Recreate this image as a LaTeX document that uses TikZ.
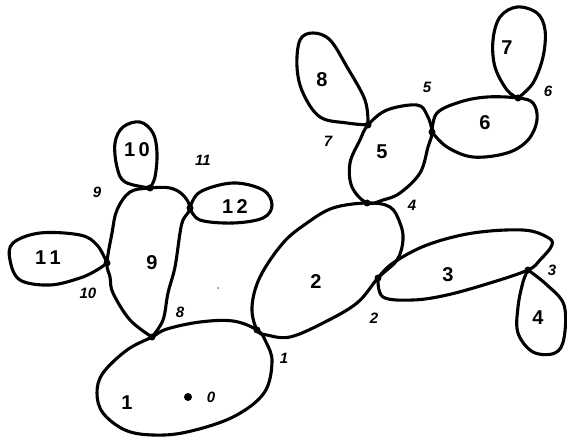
\documentclass[tikz,border=0pt]{standalone}
\usepackage{fontspec}
\setmainfont{Liberation Sans}
\begin{document}
\begin{tikzpicture}[x=1pt,y=-1pt,
  blob/.style={draw=black,line width=3.1pt,line join=round,line cap=round},
  dotj/.style={circle,fill=black,inner sep=0pt,minimum size=7pt},
  lab/.style={font=\fontsize{20}{20}\selectfont\bfseries,inner sep=0pt},
  ilab/.style={font=\fontsize{15}{15}\selectfont\bfseries\itshape,inner sep=0pt}]
\useasboundingbox (0,0) rectangle (567,438);
% junctions
\coordinate (j8) at (152,337);
\coordinate (j1) at (257,330);
\coordinate (j10) at (107,263);
\coordinate (j9) at (150,188);
\coordinate (j11) at (190,208);
\coordinate (j4) at (367,203);
\coordinate (j2) at (378,278);
\coordinate (j3) at (528,270);
\coordinate (j7) at (368,125);
\coordinate (j5) at (432,132);
\coordinate (j6) at (518,98);
% blob 1
\draw[blob] plot[smooth cycle,tension=0.6] coordinates {(j8) (167,329) (200,322) (233,321) (j1) (266,342) (272,362) (264,393) (233,417) (187,432) (153,435) (125,430) (103,413) (97,393) (103,373) (127,350)};
% blob 9
\draw[blob] plot[smooth,tension=0.6] coordinates {(j8) (130,320) (113,293) (110,277) (j10) (112,233) (117,210) (130,192) (j9) (170,188) (183,195) (j11) (183,220) (180,233) (175,267) (168,293) (163,320) (j8)};
% blob 10
\draw[blob] plot[smooth,tension=0.6] coordinates {(j9) (125,182) (117,167) (115,143) (123,127) (140,122) (153,133) (157,153) (155,177) (j9)};
% blob 11
\draw[blob] plot[smooth,tension=0.6] coordinates {(j10) (97,245) (80,235) (40,233) (13,243) (10,260) (20,280) (50,285) (80,278) (97,270) (j10)};
% blob 12
\draw[blob] plot[smooth,tension=0.6] coordinates {(j11) (200,192) (233,183) (263,190) (272,205) (263,218) (233,223) (200,220) (j11)};
% blob 2
\draw[blob] plot[smooth cycle,tension=0.6] coordinates {(j1) (252,307) (260,277) (283,243) (307,223) (333,208) (j4) (390,207) (400,223) (403,240) (397,260) (j2) (357,303) (323,323) (290,337) (267,335)};
% blob 3
\draw[blob] plot[smooth,tension=0.6] coordinates {(j2) (393,263) (427,245) (473,233) (523,230) (547,237) (552,245) (540,260) (j3) (490,283) (447,295) (413,300) (383,297) (j2)};
% blob 4
\draw[blob] plot[smooth,tension=0.6] coordinates {(j3) (523,282) (518,307) (518,333) (533,352) (555,353) (564,338) (564,305) (547,285) (j3)};
% blob 5
\draw[blob] plot[smooth cycle,tension=0.6] coordinates {(j4) (352,187) (350,163) (360,140) (j7) (387,110) (417,105) (427,115) (j5) (428,147) (420,173) (400,193) (383,200)};
% blob 8
\draw[blob] plot[smooth,tension=0.6] coordinates {(j7) (365,100) (347,67) (330,40) (313,33) (300,40) (297,67) (303,93) (320,117) (347,123) (j7)};
% blob 6
\draw[blob] plot[smooth,tension=0.6] coordinates {(j5) (437,113) (460,102) (487,97) (j6) (533,103) (537,120) (528,140) (507,153) (473,157) (447,147) (j5)};
% blob 7
\draw[blob] plot[smooth,tension=0.6] coordinates {(j6) (507,90) (495,67) (493,40) (500,17) (517,7) (537,13) (545,30) (543,57) (533,83) (j6)};
% dots
\foreach \j in {j8,j1,j10,j9,j11,j4,j2,j3,j7,j5,j6}
  \node[dotj] at (\j) {};
\node[circle,fill=black,inner sep=0pt,minimum size=8pt] (o) at (188,397) {};
\node[circle,fill=black,inner sep=0pt,minimum size=1.5pt] (speck) at (218,288) {};
% region labels
\node[lab] (l1) at (127,403) {1};
\node[lab] (l2) at (316,282) {2};
\node[lab] (l3) at (448,275) {3};
\node[lab] (l4) at (538,318) {4};
\node[lab] (l5) at (382,152) {5};
\node[lab] (l6) at (485,123) {6};
\node[lab] (l7) at (507,48) {7};
\node[lab] (l8) at (322,80) {8};
\node[lab] (l9) at (152,263) {9};
\node[lab] (l10) at (137,150) {1\,0};
\node[lab] (l11) at (48,258) {1\,1};
\node[lab] (l12) at (235,207) {1\,2};
% vertex labels
\node[ilab] (v0) at (211,397) {0};
\node[ilab] (v1) at (284,358) {1};
\node[ilab] (v2) at (374,318) {2};
\node[ilab] (v3) at (552,270) {3};
\node[ilab] (v4) at (412,205) {4};
\node[ilab] (v5) at (427,87) {5};
\node[ilab] (v6) at (548,91) {6};
\node[ilab] (v7) at (328,141) {7};
\node[ilab] (v8) at (180,312) {8};
\node[ilab] (v9) at (97,192) {9};
\node[ilab] (v10) at (88,293) {10};
\node[ilab] (v11) at (203,160) {11};
\end{tikzpicture}
\end{document}
